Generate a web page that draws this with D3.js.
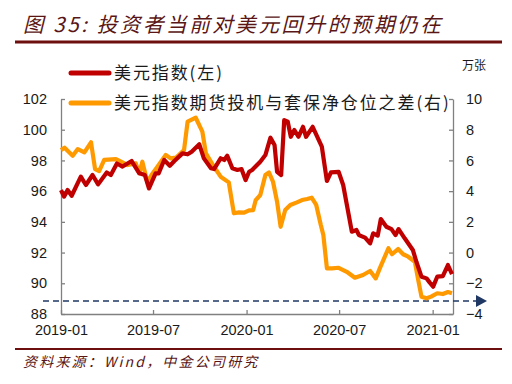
<!DOCTYPE html>
<html>
<head>
<meta charset="utf-8">
<script src="https://cdn.jsdelivr.net/npm/d3@7"></script>
<style>
  body { margin: 0; background: #fff; }
  svg { display: block; }
  .tick text { font-family: "Liberation Sans", Arial, sans-serif; font-size: 14.5px; fill: #1a1a1a; }
</style>
</head>
<body>
<script>
// 美元指数 (左轴)
var dxyDates = ["2019-01-01","2019-01-07","2019-01-14","2019-01-22","2019-02-09","2019-02-19","2019-03-04","2019-03-15",
  "2019-04-01","2019-04-09","2019-04-21","2019-05-02","2019-05-20","2019-06-04","2019-06-15","2019-06-23","2019-07-06",
  "2019-07-12","2019-07-23","2019-08-03","2019-08-12","2019-08-28","2019-09-07","2019-09-15","2019-09-30","2019-10-09",
  "2019-10-23","2019-10-29","2019-11-11","2019-11-18","2019-11-24","2019-12-04","2019-12-14","2019-12-22","2019-12-30",
  "2020-01-06","2020-01-12","2020-01-28","2020-02-07","2020-02-17","2020-02-25","2020-03-01","2020-03-09","2020-03-15",
  "2020-03-22","2020-03-28","2020-04-04","2020-04-12","2020-04-21","2020-04-27","2020-05-10","2020-05-28","2020-06-07",
  "2020-06-15","2020-06-30","2020-07-09","2020-07-26","2020-08-04","2020-08-09","2020-08-21","2020-08-31","2020-09-06",
  "2020-09-15","2020-09-21","2020-10-02","2020-10-12","2020-10-20","2020-10-26","2020-11-07","2020-11-23","2020-11-30",
  "2020-12-10","2020-12-20","2020-12-26","2021-01-02","2021-01-10","2021-01-21","2021-01-31","2021-02-08"];
var dxyValues = [96.07,95.64,96.07,95.70,96.94,96.40,97.05,96.44,
  97.22,97.05,97.80,97.60,97.96,97.16,97.05,96.18,97.16,
  97.16,98.03,97.65,97.96,98.46,98.40,98.57,99.05,98.14,
  97.49,97.44,98.14,98.03,98.31,97.49,97.38,97.44,96.72,
  97.26,97.38,97.92,98.35,99.48,99.00,97.26,97.05,100.63,
  100.52,99.54,99.98,99.54,100.19,99.54,100.19,98.90,96.66,
  97.22,97.26,96.40,93.36,93.47,93.14,92.97,92.60,93.25,
  93.10,94.18,93.68,93.53,93.14,93.53,92.93,92.17,91.40,
  90.43,90.32,90.06,89.78,90.43,90.47,91.19,90.60];

// 美元指数期货投机与套保净仓位之差 (右轴, 万张)
var posDates = ["2019-01-01","2019-01-08","2019-01-24","2019-02-03","2019-02-16","2019-03-01","2019-03-09","2019-03-17",
  "2019-03-27","2019-04-19","2019-04-29","2019-05-12","2019-05-28","2019-06-04","2019-06-10","2019-06-20","2019-06-28",
  "2019-07-10","2019-07-26","2019-08-05","2019-08-15","2019-08-31","2019-09-07","2019-09-23","2019-10-06","2019-10-13",
  "2019-10-29","2019-11-11","2019-11-27","2019-12-07","2019-12-17","2019-12-27","2020-01-06","2020-01-14","2020-01-19",
  "2020-01-28","2020-02-07","2020-02-14","2020-02-22","2020-03-01","2020-03-08","2020-03-17","2020-03-27","2020-04-09",
  "2020-04-19","2020-04-29","2020-05-08","2020-05-17","2020-05-26","2020-05-31","2020-06-07","2020-06-17","2020-06-30",
  "2020-07-16","2020-08-01","2020-08-17","2020-08-31","2020-09-11","2020-09-19","2020-10-06","2020-10-13","2020-10-25",
  "2020-11-04","2020-11-14","2020-11-27","2020-12-03","2020-12-10","2020-12-20","2020-12-29","2021-01-10","2021-01-21",
  "2021-01-31","2021-02-08"];
var posValues = [6.68,6.83,6.31,6.74,6.53,7.18,5.44,5.31,
  6.03,6.09,5.92,5.70,5.81,5.16,5.92,4.57,5.05,
  5.60,6.35,6.13,6.18,6.68,8.52,8.78,7.87,6.46,
  5.59,4.94,4.57,2.56,2.62,2.60,2.75,2.77,3.42,
  3.75,5.05,5.22,4.61,3.31,1.68,2.77,3.10,3.27,
  3.42,3.49,3.57,3.10,1.79,1.14,-1.03,-1.03,-0.99,
  -1.25,-1.64,-1.46,-1.20,-1.68,-1.03,0.28,-0.11,0.23,
  -0.11,-0.27,-0.60,-1.68,-2.87,-2.98,-2.87,-2.65,-2.70,
  -2.57,-2.65];

var leftTicks = [88, 90, 92, 94, 96, 98, 100, 102];
var rightTicks = [-4, -2, 0, 2, 4, 6, 8, 10];
var xTicks = ["2019-01-01", "2019-07-01", "2020-01-01", "2020-07-01", "2021-01-01"];
var refLine = -3.15; // 虚线 (右轴)

var width = 512,
    height = 384,
    margin = {top: 99, right: 57, bottom: 70, left: 61};

var redColor = "#c00000",
    orangeColor = "#ff9900",
    axisColor = "#808080",
    ruleColor = "#6e0f0f",
    titleColor = "#5a1515",
    arrowColor = "#1f3864";

var parse = d3.timeParse("%Y-%m-%d");

var svg = d3.select("body").append("svg")
    .attr("width", width)
    .attr("height", height);

svg.append("rect").attr("width", width).attr("height", height).attr("fill", "#fff");

var x = d3.scaleTime()
    .domain([parse("2019-01-01"), parse("2021-02-10")])
    .range([margin.left, width - margin.right - 2]);

var yLeft = d3.scaleLinear().domain([88, 102]).range([height - margin.bottom, margin.top]);
var yRight = d3.scaleLinear().domain([-4, 10]).range([height - margin.bottom, margin.top]);

// title
svg.append("text")
    .attr("x", 23).attr("y", 32)
    .attr("font-family", "'Noto Sans CJK SC', sans-serif")
    .attr("font-size", 20.5)
    .attr("font-style", "italic")
    .attr("letter-spacing", 2.6)
    .attr("fill", titleColor)
    .text("图 35: 投资者当前对美元回升的预期仍在");

svg.append("rect").attr("x", 15).attr("y", 40.5).attr("width", 487).attr("height", 3).attr("fill", ruleColor);
svg.append("rect").attr("x", 15).attr("y", 348).attr("width", 487).attr("height", 2).attr("fill", ruleColor);

// source
svg.append("text")
    .attr("x", 23).attr("y", 367)
    .attr("font-family", "'Noto Sans CJK SC', sans-serif")
    .attr("font-size", 14)
    .attr("font-style", "italic")
    .attr("letter-spacing", 2.2)
    .attr("fill", titleColor)
    .text("资料来源：Wind，中金公司研究");

// axes
function styleAxis(g) {
    g.select(".domain").attr("stroke", axisColor).attr("stroke-width", 1.3);
    g.selectAll(".tick line").attr("stroke", axisColor).attr("stroke-width", 1.3);
}

svg.append("g")
    .attr("transform", "translate(" + margin.left + ",0)")
    .call(d3.axisLeft(yLeft).tickValues(leftTicks).tickSizeInner(-4).tickSizeOuter(0).tickPadding(14))
    .call(styleAxis);

svg.append("g")
    .attr("transform", "translate(" + (width - margin.right - 2) + ",0)")
    .call(d3.axisRight(yRight).tickValues(rightTicks).tickSizeInner(-4).tickSizeOuter(0).tickPadding(13))
    .call(styleAxis);

svg.append("g")
    .attr("transform", "translate(0," + (height - margin.bottom) + ")")
    .call(d3.axisBottom(x).tickValues(xTicks.map(parse)).tickFormat(d3.timeFormat("%Y-%m"))
        .tickSizeInner(-4).tickSizeOuter(0).tickPadding(11))
    .call(styleAxis);

// unit label
svg.append("text")
    .attr("x", 474).attr("y", 70)
    .attr("text-anchor", "middle")
    .attr("font-family", "'Noto Sans CJK SC', sans-serif")
    .attr("font-size", 12)
    .attr("fill", "#1a1a1a")
    .text("万张");

// reference dashed line + arrow
var yRef = yRight(refLine);
svg.append("line")
    .attr("x1", 43).attr("x2", 476)
    .attr("y1", yRef).attr("y2", yRef)
    .attr("stroke", arrowColor)
    .attr("stroke-width", 1.5)
    .attr("stroke-dasharray", "6,4");
svg.append("path")
    .attr("d", "M476," + (yRef - 6) + "L487," + yRef + "L476," + (yRef + 6) + "Z")
    .attr("fill", arrowColor);

// lines
var posData = posDates.map(function(d, i) { return {date: parse(d), value: posValues[i]}; });
var dxyData = dxyDates.map(function(d, i) { return {date: parse(d), value: dxyValues[i]}; });

svg.append("path")
    .datum(posData)
    .attr("fill", "none")
    .attr("stroke", orangeColor)
    .attr("stroke-width", 4.2)
    .attr("stroke-linejoin", "round")
    .attr("d", d3.line().x(function(d) { return x(d.date); }).y(function(d) { return yRight(d.value); }));

svg.append("path")
    .datum(dxyData)
    .attr("fill", "none")
    .attr("stroke", redColor)
    .attr("stroke-width", 4.2)
    .attr("stroke-linejoin", "round")
    .attr("d", d3.line().x(function(d) { return x(d.date); }).y(function(d) { return yLeft(d.value); }));

// legend
var legend = [
    {label: "美元指数(左)", color: redColor, y: 73},
    {label: "美元指数期货投机与套保净仓位之差(右)", color: orangeColor, y: 103}
];
var lg = svg.selectAll(".legend").data(legend).enter().append("g").attr("class", "legend");
lg.append("line")
    .attr("x1", 71).attr("x2", 109)
    .attr("y1", function(d) { return d.y; }).attr("y2", function(d) { return d.y; })
    .attr("stroke", function(d) { return d.color; })
    .attr("stroke-width", 5)
    .attr("stroke-linecap", "round");
lg.append("text")
    .attr("x", 114).attr("y", function(d) { return d.y + 6; })
    .attr("font-family", "'Noto Sans CJK SC', sans-serif")
    .attr("font-size", 17)
    .attr("letter-spacing", 1.9)
    .attr("fill", "#1a1a1a")
    .text(function(d) { return d.label; });
</script>
</body>
</html>
